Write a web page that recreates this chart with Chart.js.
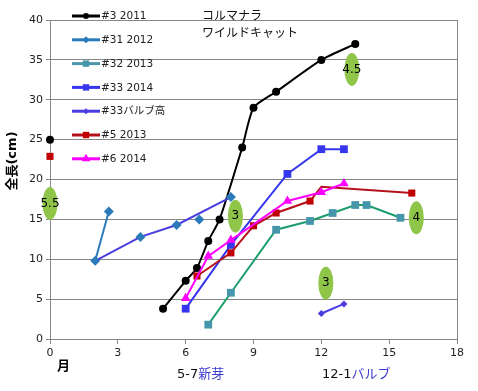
<!DOCTYPE html>
<html>
<head>
<meta charset="utf-8">
<script src="https://cdn.jsdelivr.net/npm/chart.js@4.4.0/dist/chart.umd.min.js"></script>
<style>
  html, body { margin: 0; padding: 0; background: #fff; }
  #wrap { width: 478px; height: 391px; }
</style>
</head>
<body>
<div id="wrap"><canvas id="c" width="478" height="391"></canvas></div>
<script>
// month (x) vs length in cm (y); null = break in the line
const s3_2011_x = [0, null, 5, 6, 6.5, 7, 7.5, 8.5, 9, 10, 12, 13.5];
const s3_2011_y = [25, null, 3.8, 7.3, 8.9, 12.3, 15, 24, 29, 31, 35, 37];

const s31_2012_x = [2, 2.6, null, 4, null, 5.6, null, 6.6, null, 8];
const s31_2012_y = [9.8, 16, null, 12.8, null, 14.3, null, 15, null, 17.8];

const s32_2013_x = [7, 8, 10, 11.5, 12.5, 13.5, 14, 15.5];
const s32_2013_y = [1.8, 5.8, 13.7, 14.8, 15.8, 16.8, 16.8, 15.2];

const s33_2014_x = [6, 8, 10.5, 12, 13];
const s33_2014_y = [3.8, 11.8, 20.7, 23.8, 23.8];

const s33_bulb_x = [2, 4, 5.6, 8, null, 12, 13];
const s33_bulb_y = [9.8, 12.8, 14.3, 17.8, null, 3.2, 4.4];

const s5_2013_x = [0, null, 6.5, 8, 9, 10, 11.5, 12, 16];
const s5_2013_y = [22.9, null, 7.9, 10.8, 14.2, 15.8, 17.3, 19.1, 18.3];

const s6_2014_x = [6, 7, 8, 10.5, 12, 13];
const s6_2014_y = [5.1, 10.4, 12.4, 17.3, 18.4, 19.5];

const xTicks = [0, 3, 6, 9, 12, 15, 18];
const yTicks = [0, 5, 10, 15, 20, 25, 30, 35, 40];

// green oval notes
const noteX = [0, 8.2, 13.35, 12.2, 16.2];
const noteY = [17, 15.4, 33.8, 7, 15.2];
const noteText = ['5.5', '3', '4.5', '3', '4'];

const pts = (xs, ys) => xs.map((v, i) => ({ x: v, y: ys[i] }));

const GRID = '#878787';
const FONT = '"DejaVu Sans", "Noto Sans CJK JP", sans-serif';

function series(label, xs, ys, color, markColor, style, radius, legendR, order) {
    return {
        label, data: pts(xs, ys), order,
        borderColor: color, borderWidth: 2,
        pointStyle: style, pointRadius: radius,
        pointBackgroundColor: markColor, pointBorderColor: markColor, pointBorderWidth: 0,
        legendRadius: legendR, clip: false, tension: 0
    };
}

const datasets = [
    series('#3 2011', s3_2011_x, s3_2011_y, '#000000', '#000000', 'circle', 4, 3, 7),
    series('#31 2012', s31_2012_x, s31_2012_y, '#2b7bba', '#2b7bba', 'rectRot', 5, 3.5, 3),
    series('#32 2013', s32_2013_x, s32_2013_y, '#1b9e6c', '#4596aa', 'rect', 5.5, 4.5, 6),
    series('#33 2014', s33_2014_x, s33_2014_y, '#3636ee', '#3636ee', 'rect', 5.5, 4.5, 5),
    series('#33バルブ高', s33_bulb_x, s33_bulb_y, '#4a3de0', '#4a3de0', 'rectRot', 3.5, 3, 4),
    series('#5 2013', s5_2013_x, s5_2013_y, '#b5121b', '#c00000', 'rect', 5, 4.5, 2),
    series('#6 2014', s6_2014_x, s6_2014_y, '#ff00ff', '#ff00ff', 'triangle', 5.5, 5, 1)
];
datasets[0].tension = 0.2;
datasets[2].legendColor = '#4b97aa';
// no marker on the #5 peak point
datasets[5].pointRadius = ctx => ctx.dataIndex === 7 ? 0 : 5;

function mark(ctx, style, r, x, y) {
    if (Chart.helpers && Chart.helpers.drawPoint) {
        Chart.helpers.drawPoint(ctx, { pointStyle: style, radius: r, rotation: 0, borderWidth: 0 }, x, y);
    }
}

const overlay = {
    id: 'overlay',
    afterDatasetsDraw(chart) {
        const { ctx, scales: { x, y } } = chart;
        ctx.save();

        // ovals
        noteX.forEach((v, i) => {
            const px = x.getPixelForValue(v), py = y.getPixelForValue(noteY[i]);
            ctx.fillStyle = '#8fc549';
            ctx.beginPath();
            ctx.ellipse(px, py, 7.5, 16.5, 0, 0, Math.PI * 2);
            ctx.fill();
            ctx.fillStyle = '#000';
            ctx.font = '12px ' + FONT;
            ctx.textAlign = 'center';
            ctx.textBaseline = 'middle';
            ctx.fillText(noteText[i], px, py);
        });

        // legend
        chart.data.datasets.forEach((ds, i) => {
            const ly = 16 + i * 23.8;
            ctx.strokeStyle = ds.legendColor || ds.borderColor;
            ctx.lineWidth = 3;
            ctx.beginPath();
            ctx.moveTo(72, ly); ctx.lineTo(100, ly);
            ctx.stroke();
            ctx.fillStyle = ds.pointBackgroundColor;
            ctx.strokeStyle = ds.pointBorderColor;
            mark(ctx, ds.pointStyle, ds.legendRadius, 86, ly);
            ctx.fillStyle = '#222';
            ctx.font = '10.5px ' + FONT;
            ctx.textAlign = 'left';
            ctx.textBaseline = 'middle';
            ctx.fillText(ds.label, 101, ly + 0.5);
        });

        // title
        ctx.fillStyle = '#111';
        ctx.font = '12px "Noto Sans CJK JP", sans-serif';
        ctx.textAlign = 'left';
        ctx.textBaseline = 'middle';
        ctx.fillText('コルマナラ', 202, 15);
        ctx.fillText('ワイルドキャット', 202, 32);

        // axis captions
        ctx.font = 'bold 13px ' + FONT;
        ctx.fillStyle = '#000';
        ctx.fillText('月', 57, 367);

        ctx.font = '13px ' + FONT;
        let w = 0;
        ctx.fillStyle = '#111';
        ctx.fillText('5-7', 177, 375);
        w = ctx.measureText('5-7').width;
        ctx.fillStyle = '#3a3ad0';
        ctx.fillText('新芽', 177 + w, 375);
        ctx.fillStyle = '#111';
        ctx.fillText('12-1', 322, 375);
        w = ctx.measureText('12-1').width;
        ctx.fillStyle = '#3a3ad0';
        ctx.fillText('バルブ', 322 + w, 375);

        ctx.translate(12.5, 161);
        ctx.rotate(-Math.PI / 2);
        ctx.textAlign = 'center';
        ctx.fillStyle = '#000';
        ctx.font = 'bold 13px ' + FONT;
        ctx.fillText('全長(cm)', 0, 0);
        ctx.restore();
    }
};

new Chart(document.getElementById('c'), {
    type: 'line',
    data: { datasets },
    options: {
        responsive: false,
        animation: false,
        layout: { padding: { left: 0, right: 21, top: 20, bottom: 0 } },
        plugins: { legend: { display: false }, tooltip: { enabled: false } },
        scales: {
            x: {
                type: 'linear', min: 0, max: 18,
                afterBuildTicks: s => { s.ticks = xTicks.map(v => ({ value: v })); },
                afterFit: s => { s.height = 52; },
                grid: { drawOnChartArea: false, drawTicks: true, tickLength: 5, color: GRID },
                border: { color: GRID },
                ticks: { color: '#222', font: { family: FONT, size: 11 }, padding: 3, maxRotation: 0 }
            },
            y: {
                min: 0, max: 40,
                afterBuildTicks: s => { s.ticks = yTicks.map(v => ({ value: v })); },
                afterFit: s => { s.width = 50; },
                grid: { color: GRID, tickLength: 4 },
                border: { color: GRID },
                ticks: { color: '#222', font: { family: FONT, size: 11 }, padding: 3 }
            },
            y2: {
                position: 'right', min: 0, max: 40,
                afterFit: s => { s.width = 0; },
                grid: { display: false },
                ticks: { display: false },
                border: { display: true, color: GRID }
            }
        }
    },
    plugins: [overlay]
});
</script>
</body>
</html>
